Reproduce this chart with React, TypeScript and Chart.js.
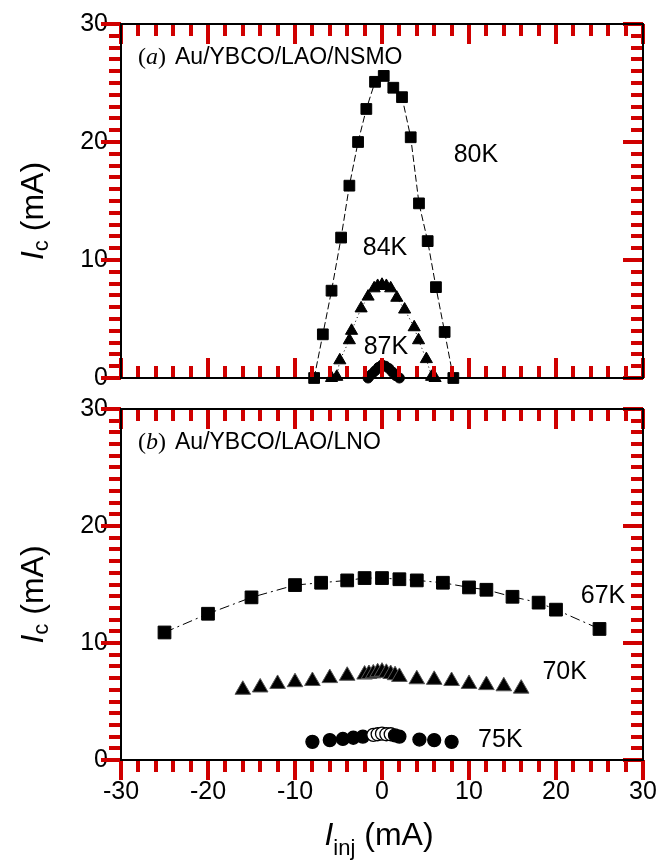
import React, { useEffect, useRef } from 'react';
import { Chart, registerables } from 'chart.js';

Chart.register(...registerables);

const SANS = '"Liberation Sans", Arial, Helvetica, sans-serif';
const SERIF = '"Liberation Serif", "Times New Roman", serif';

// ---- Panel (a): Au/YBCO/LAO/NSMO ----
const injA80 = [-7.8, -6.8, -5.8, -4.7, -3.75, -2.75, -1.8, -0.8, 0.2, 1.3, 2.3, 3.3, 4.25, 5.25, 6.2, 7.2, 8.2];
const icA80 = [0, 3.7, 7.4, 11.9, 16.3, 20.0, 22.8, 25.1, 25.6, 24.6, 23.8, 20.4, 14.8, 11.6, 7.7, 3.9, 0];

const injA84 = [-5.8, -5.2, -4.85, -3.75, -3.5, -2.4, -1.6, -0.9, -0.5, 0, 0.5, 1.0, 1.7, 2.6, 3.7, 4.2, 5.1, 5.7, 6.1];
const icA84 = [0, 0.1, 1.5, 3.2, 4.0, 5.9, 6.9, 7.6, 7.8, 7.9, 7.8, 7.6, 6.8, 5.8, 4.3, 3.2, 1.6, 0.1, 0];

const injA87 = [-1.6, -1.2, -0.8, -0.4, 0, 0.4, 0.8, 1.2, 1.6, 2.0];
const icA87 = [0, 0.3, 0.6, 0.9, 1.1, 1.0, 0.8, 0.5, 0.2, 0];

// ---- Panel (b): Au/YBCO/LAO/LNO ----
const injB67 = [-25, -20, -15, -10, -7, -4, -2, 0, 2, 4, 7, 10, 12, 15, 18, 20, 25];
const icB67 = [10.9, 12.5, 13.9, 14.95, 15.15, 15.35, 15.55, 15.55, 15.45, 15.35, 15.15, 14.75, 14.55, 13.95, 13.45, 12.85, 11.2];

const injB70 = [-16, -14, -12, -10, -8, -6, -4, -2, -1.5, -1, -0.5, 0, 0.5, 1, 1.5, 2, 4, 6, 8, 10, 12, 14, 16];
const icB70 = [6.0, 6.2, 6.5, 6.65, 6.75, 7.0, 7.2, 7.3, 7.35, 7.4, 7.5, 7.55, 7.45, 7.35, 7.25, 7.1, 6.9, 6.85, 6.75, 6.5, 6.4, 6.3, 6.1];

const injB75 = [-8, -6, -4.5, -3.3, -2.2, -1, -0.5, 0, 0.5, 1, 1.5, 2, 4.3, 6, 8];
const icB75 = [1.55, 1.7, 1.8, 1.9, 2.0, 2.15, 2.2, 2.25, 2.2, 2.2, 2.1, 2.0, 1.75, 1.7, 1.55];

// Temperature tags, anchored in data coordinates
const tagsA = [
  { text: '80K', x: 10.8, y: 18.9 },
  { text: '84K', x: 0.35, y: 11.0 },
  { text: '87K', x: 0.45, y: 2.6 },
];
const tagsB = [
  { text: '67K', x: 25.4, y: 14.0 },
  { text: '70K', x: 21.0, y: 7.5 },
  { text: '75K', x: 13.6, y: 1.7 },
];

// Axis ranges and tick positions (labelled every 10)
const xRange = [-30, 30];
const yRange = [0, 30];
const xTickValues = [-30, -28, -26, -24, -22, -20, -18, -16, -14, -12, -10, -8, -6, -4, -2, 0,
  2, 4, 6, 8, 10, 12, 14, 16, 18, 20, 22, 24, 26, 28, 30];
const yTickValues = [0, 1, 2, 3, 4, 5, 6, 7, 8, 9, 10, 11, 12, 13, 14, 15, 16, 17, 18, 19, 20,
  21, 22, 23, 24, 25, 26, 27, 28, 29, 30];
const labelEvery = 10;

const pts = (xs: number[], ys: number[]) => xs.map((x, i) => ({ x, y: ys[i] }));

type Piece = { text: string; font: string; dy?: number };

function drawPieces(ctx: CanvasRenderingContext2D, pieces: Piece[], startX: number, baseY: number) {
  let x = startX;
  for (const p of pieces) {
    ctx.font = p.font;
    ctx.fillText(p.text, x, baseY + (p.dy || 0));
    x += ctx.measureText(p.text).width;
  }
}

function piecesWidth(ctx: CanvasRenderingContext2D, pieces: Piece[]) {
  let w = 0;
  for (const p of pieces) {
    ctx.font = p.font;
    w += ctx.measureText(p.text).width;
  }
  return w;
}

const yTitle: Piece[] = [
  { text: 'I', font: `italic 32px ${SANS}` },
  { text: 'c', font: `22px ${SANS}`, dy: 5 },
  { text: ' (mA)', font: `32px ${SANS}` },
];

const xTitle: Piece[] = [
  { text: 'I', font: `italic 32px ${SANS}` },
  { text: 'inj', font: `22px ${SANS}`, dy: 10 },
  { text: ' (mA)', font: `32px ${SANS}` },
];

// Box frame with all ticks: outward on the left (and the bottom of the lower panel),
// inward on top / right and on the bottom of the upper panel.
const axesFrame = {
  id: 'axesFrame',
  afterDraw(chart: any, _args: any, opts: any) {
    const ctx: CanvasRenderingContext2D = chart.ctx;
    const a = chart.chartArea;
    const xs = chart.scales.x;
    const ys = chart.scales.y;
    const L = Math.round(a.left);
    const R = Math.round(a.right);
    const T = Math.round(a.top);
    const B = Math.round(a.bottom);
    ctx.save();
    ctx.fillStyle = '#d00000';

    for (const v of xTickValues) {
      const p = Math.round(xs.getPixelForValue(v));
      const len = v % labelEvery === 0 ? 20 : 12;
      ctx.fillRect(p - 2, T, 4, len);
      if (opts.bottomOut) ctx.fillRect(p - 2, B, 4, len);
      else ctx.fillRect(p - 2, B - len, 4, len);
    }
    for (const v of yTickValues) {
      const p = Math.round(ys.getPixelForValue(v));
      const len = v % labelEvery === 0 ? 20 : 12;
      ctx.fillRect(L - len, p - 2, len, 4);
      ctx.fillRect(R - len, p - 2, len, 4);
    }
    ctx.fillStyle = '#000';
    // frame
    ctx.fillRect(L - 1, T - 1, R - L + 2, 2);
    ctx.fillRect(L - 1, B - 1, R - L + 2, 2);
    ctx.fillRect(L - 1, T - 1, 2, B - T + 2);
    ctx.fillRect(R - 1, T - 1, 2, B - T + 2);

    // temperature tags
    ctx.textAlign = 'center';
    ctx.textBaseline = 'middle';
    ctx.font = `25px ${SANS}`;
    for (const t of opts.tags) {
      ctx.fillText(t.text, xs.getPixelForValue(t.x), ys.getPixelForValue(t.y));
    }

    // panel heading: (a) / (b) and the sample stack
    ctx.textAlign = 'left';
    ctx.textBaseline = 'alphabetic';
    const hx = a.left + 17;
    const hy = a.top + 39.5;
    drawPieces(ctx, [
      { text: '(', font: `24px ${SERIF}` },
      { text: opts.letter, font: `italic 24px ${SERIF}` },
      { text: ')', font: `24px ${SERIF}` },
    ], hx, hy);
    ctx.font = `23px ${SANS}`;
    ctx.fillText(opts.sample, a.left + 54, hy);

    // y axis title, rotated
    const yw = piecesWidth(ctx, yTitle);
    ctx.save();
    ctx.translate(a.left - 78, (a.top + a.bottom) / 2 + 10);
    ctx.rotate(-Math.PI / 2);
    drawPieces(ctx, yTitle, -yw / 2, 0);
    ctx.restore();

    // x axis title on the lower panel
    if (opts.xTitle) {
      const xw = piecesWidth(ctx, xTitle);
      drawPieces(ctx, xTitle, (a.left + a.right) / 2 - 3 - xw / 2, a.bottom + 85);
    }
    ctx.restore();
  },
};

const tickFont = { family: SANS, size: 25 };
const majorLabel = (v: any) => (Number(v) % labelEvery === 0 ? String(v) : '');

function makeOptions(opts: { showX: boolean; xHeight: number; padTop: number; frame: any }) {
  return {
    responsive: false,
    animation: false as const,
    layout: { padding: { left: 0, right: 16, top: opts.padTop, bottom: 0 } },
    plugins: {
      legend: { display: false },
      tooltip: { enabled: false },
      axesFrame: opts.frame,
    },
    scales: {
      x: {
        type: 'linear' as const,
        min: xRange[0],
        max: xRange[1],
        afterBuildTicks: (s: any) => { s.ticks = xTickValues.map((value) => ({ value })); },
        grid: { display: false, drawTicks: false },
        border: { display: false },
        ticks: {
          display: opts.showX,
          color: '#000',
          font: tickFont,
          padding: 17,
          maxRotation: 0,
          autoSkip: false,
          callback: majorLabel,
        },
        afterFit: (s: any) => {
          s.height = opts.xHeight;
          s.paddingLeft = 0;
          s.paddingRight = 0;
        },
      },
      y: {
        type: 'linear' as const,
        min: yRange[0],
        max: yRange[1],
        afterBuildTicks: (s: any) => { s.ticks = yTickValues.map((value) => ({ value })); },
        grid: { display: false, drawTicks: false },
        border: { display: false },
        ticks: { color: '#000', font: tickFont, padding: 13, autoSkip: false, callback: majorLabel },
        afterFit: (s: any) => {
          s.width = 121;
          s.paddingTop = 0;
          s.paddingBottom = 0;
        },
      },
    },
  };
}

const lineSet = (data: any[], style: any) => ({
  data,
  showLine: true,
  borderColor: '#000',
  borderWidth: 1,
  pointBackgroundColor: '#000',
  pointBorderColor: '#000',
  pointBorderWidth: 1,
  clip: false as const,
  ...style,
});

export default function App() {
  const topRef = useRef<HTMLCanvasElement>(null);
  const botRef = useRef<HTMLCanvasElement>(null);

  useEffect(() => {
    const top = new Chart(topRef.current as HTMLCanvasElement, {
      type: 'scatter',
      data: {
        datasets: [
          lineSet(pts(injA80, icA80), { label: '80K', borderDash: [7, 3], pointStyle: 'rect', pointRadius: 7.6 }),
          lineSet(pts(injA84, icA84), { label: '84K', borderDash: [1, 3], pointStyle: 'triangle', pointRadius: 7 }),
          lineSet(pts(injA87, icA87), { label: '87K', borderDash: [1, 3], pointStyle: 'circle', pointRadius: 5 }),
        ],
      },
      options: makeOptions({
        showX: false,
        xHeight: 17,
        padTop: 24,
        frame: { bottomOut: false, tags: tagsA, letter: 'a', sample: 'Au/YBCO/LAO/NSMO', xTitle: false },
      }) as any,
      plugins: [axesFrame],
    });

    const bot = new Chart(botRef.current as HTMLCanvasElement, {
      type: 'scatter',
      data: {
        datasets: [
          lineSet(pts(injB67, icB67), { label: '67K', borderDash: [10, 4, 2, 4], pointStyle: 'rect', pointRadius: 9 }),
          lineSet(pts(injB70, icB70), {
            label: '70K',
            showLine: false,
            pointStyle: 'triangle',
            pointRadius: 9,
            pointBorderColor: '#555',
          }),
          lineSet(pts(injB75, icB75), {
            label: '75K',
            showLine: false,
            pointStyle: 'circle',
            pointRadius: 6.5,
            pointBorderWidth: 1.3,
            pointBackgroundColor: injB75.map((x) => (Math.abs(x) <= 1 ? '#fff' : '#000')),
          }),
        ],
      },
      options: makeOptions({
        showX: true,
        xHeight: 101,
        padTop: 14,
        frame: { bottomOut: true, tags: tagsB, letter: 'b', sample: 'Au/YBCO/LAO/LNO', xTitle: true },
      }) as any,
      plugins: [axesFrame],
    });

    return () => {
      top.destroy();
      bot.destroy();
    };
  }, []);

  return (
    <div style={{ position: 'fixed', left: 0, top: 0, width: 659, height: 861, background: '#fff' }}>
      <canvas ref={topRef} width={659} height={395} style={{ position: 'absolute', left: 0, top: 0 }} />
      <canvas ref={botRef} width={659} height={466} style={{ position: 'absolute', left: 0, top: 395 }} />
    </div>
  );
}
